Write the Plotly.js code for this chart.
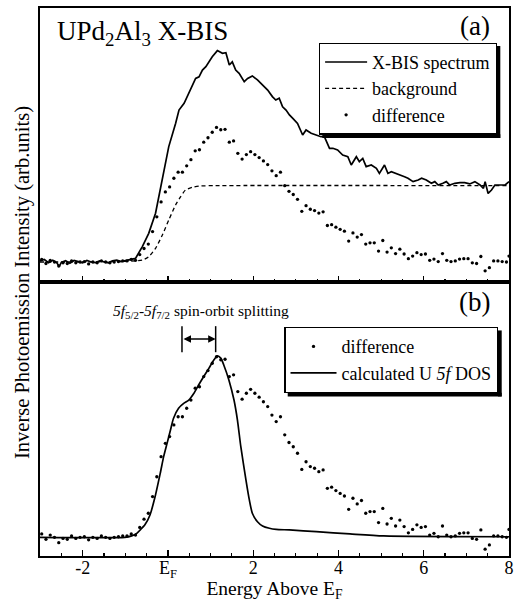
<!DOCTYPE html>
<html>
<head>
<meta charset="utf-8">
<script src="https://cdn.plot.ly/plotly-3.0.1.min.js"></script>
<style>html,body{margin:0;padding:0;background:#fff;}#chart{width:531px;height:603px;}</style>
</head>
<body>
<div id="chart"></div>
<script>
// X-BIS spectrum (panel a)
const xbisE = [-3.0,-2.9,-2.8,-2.7,-2.6,-2.55,-2.5,-2.4,-2.3,-2.2,-2.1,-2.0,-1.9,-1.8,-1.7,-1.6,-1.5,-1.4,-1.3,-1.2,-1.1,-1.0,-0.9,
  -0.76,-0.60,-0.45,-0.29,-0.13,0.02,0.18,0.26,0.38,0.45,0.57,0.65,0.73,0.81,0.89,0.96,1.04,1.16,1.28,1.36,1.44,1.51,1.59,1.67,1.79,1.87,1.98,
  2.10,2.22,2.34,2.45,2.53,2.61,2.69,2.77,2.85,2.93,3.04,3.16,3.24,3.36,3.47,3.59,3.67,3.79,3.87,3.98,
  4.10,4.22,4.30,4.42,4.49,4.57,4.65,4.77,4.89,4.96,5.08,5.16,5.24,5.36,5.44,5.55,5.63,5.75,5.87,5.95,
  6.06,6.18,6.26,6.34,6.45,6.53,6.61,6.73,6.85,6.96,7.08,7.20,7.32,7.40,7.44,7.51,7.59,7.67,7.79,7.91,8.0];
const xbisI = [0.5,1.2,-0.3,0.8,-0.5,-2.2,-0.2,0.6,-0.6,0.7,0.2,-0.4,0.7,0.0,-0.3,0.5,0.1,-0.4,0.6,0.9,0.2,0.6,1.1,
  1.7,7.3,13.6,23.1,38.9,54.7,65.7,72.0,75.2,78.4,83.1,87.0,87.8,91.0,92.6,94.9,97.3,100.2,98.9,99.2,93.4,94.9,91.0,89.4,85.5,87.0,88.2,
  86.3,83.9,81.5,78.4,76.8,77.6,73.6,72.0,69.7,68.1,65.7,60.2,62.6,61.0,60.2,59.4,59.4,53.9,53.9,53.1,
  50.7,49.9,46.0,49.9,47.6,49.1,45.2,46.0,44.4,42.0,46.0,42.0,42.8,42.0,41.2,40.4,39.7,38.1,38.9,39.7,
  38.9,37.3,38.1,36.5,37.3,38.1,36.5,37.3,37.6,37.6,37.0,38.1,36.5,34.9,38.1,32.5,34.1,36.5,36.5,36.5,38.1];

// background (panel a)
const bgE = [-3.0,-0.6,-0.45,-0.29,-0.13,0.02,0.18,0.30,0.41,0.57,0.73,1.12,8.0];
const bgI = [0,0.9,2.5,6.5,12.8,19.9,27.0,31.0,34.1,35.4,36.0,36.2,36.2];

// difference (panels a and b)
const diffE = [-2.96,-2.86,-2.76,-2.66,-2.56,-2.46,-2.36,-2.26,-2.16,-2.06,
  -1.96,-1.86,-1.76,-1.66,-1.56,-1.46,-1.36,-1.26,-1.16,-1.06,
  -0.96,-0.86,-0.76,-0.66,-0.56,-0.46,-0.36,-0.26,-0.16,-0.06,
  0.04,0.14,0.24,0.34,0.44,0.54,0.64,0.74,0.84,0.94,
  1.04,1.14,1.24,1.34,1.44,1.54,1.64,1.74,1.84,1.94,
  2.04,2.14,2.24,2.34,2.44,2.54,2.64,2.74,2.84,2.94,
  3.04,3.14,3.24,3.34,3.44,3.54,3.64,3.74,3.84,3.94,
  4.04,4.14,4.24,4.34,4.44,4.54,4.64,4.74,4.84,4.94,
  5.04,5.14,5.24,5.34,5.44,5.54,5.64,5.74,5.84,5.94,
  6.04,6.14,6.24,6.34,6.44,6.54,6.64,6.74,6.84,6.94,
  7.04,7.14,7.24,7.34,7.44,7.54,7.64,7.74,7.84,7.94,8.0];
const diffI = [1.2,-0.7,0.8,0,-1.9,-0.4,-0.7,0.5,-0.4,0,
  0.2,-0.9,0,-0.4,0.5,0,-0.4,0,0.2,0.5,
  0.5,1.2,0.8,3.5,6.4,8.5,14.4,21.4,28.5,33.2,
  35.6,39.7,42.6,42.6,45.6,48.5,52.7,53.2,56.8,58.9,
  61.5,63.8,62.7,62.9,56.8,57.4,51.5,48.8,50.9,52.3,
  50.9,49.5,47.9,46.2,43.2,40.9,42.6,36.2,33.5,32.0,
  29.7,24.0,26.7,25.0,24.4,23.2,23.8,17.3,17.7,16.5,
  15.5,14.6,9.9,13.8,11.8,13.0,8.5,9.1,9.1,5.2,
  10.2,4.7,6.7,4.0,6.1,3.8,1.6,2.8,4.4,3.5,
  3.8,0.8,1.4,0.2,4.0,0.8,0.2,0.5,1.4,1.6,
  1.6,-0.4,-0.7,2.6,-4.2,-2.7,0.5,0.5,0.2,0,2.8];

// calculated U 5f DOS (panel b)
const dosE = [-3.0,-1.01,-0.85,-0.73,-0.65,-0.54,-0.42,-0.30,-0.18,-0.10,-0.02,0.06,0.13,0.25,0.37,0.49,0.61,0.72,0.84,0.96,1.08,1.16,1.24,1.31,1.43,1.55,1.63,1.71,1.83,1.91,1.98,2.10,2.22,2.38,2.54,2.85,3.48,4.27,5.06,8.0];
const dosI = [0,0,0.5,1.4,2.6,4.4,7.9,14.4,22.6,28.5,33.2,37.9,42.0,45.6,47.3,48.5,50.9,53.8,56.8,59.7,62.7,64.1,63.3,60.9,55.6,48.5,41.5,32.0,20.3,13.2,8.5,5.5,4.0,3.2,2.8,2.6,2.0,1.2,0.5,0.2];

// axis ticks
const tickVals = [-2,0,2,4,6,8];
const tickText = ['-2','E<sub>F</sub>','2','4','6','8'];

const FONT = "'Liberation Serif', 'Times New Roman', serif";

const traces = [
  {x: xbisE, y: xbisI, xaxis:'x', yaxis:'y', mode:'lines', name:'X-BIS spectrum',
   line:{color:'#000', width:1.7}, legend:'legend'},
  {x: bgE, y: bgI, xaxis:'x', yaxis:'y', mode:'lines', name:'background',
   line:{color:'#000', width:1.3, dash:'4px,3px', shape:'spline', smoothing:0.6}, legend:'legend'},
  {x: diffE, y: diffI, xaxis:'x', yaxis:'y', mode:'markers', name:'difference',
   marker:{color:'#000', size:3.3}, legend:'legend'},
  {x: diffE, y: diffI, xaxis:'x2', yaxis:'y2', mode:'markers', name:'difference',
   marker:{color:'#000', size:3.3}, legend:'legend2'},
  {x: dosE, y: dosI, xaxis:'x2', yaxis:'y2', mode:'lines', name:'calculated U <i>5f</i> DOS',
   line:{color:'#000', width:1.7, shape:'spline', smoothing:0.6}, legend:'legend2'}
];

const xCommon = {
  range:[-3,8], showline:true, linecolor:'#000', linewidth:1.6, mirror:true,
  ticks:'inside', ticklen:6, tickwidth:1.3, tickcolor:'#000',
  tickmode:'array', tickvals:tickVals, ticktext:tickText,
  minor:{dtick:0.5, tick0:0, ticks:'inside', ticklen:3, tickwidth:1.1, tickcolor:'#000'},
  showgrid:false, zeroline:false,
  tickfont:{family:FONT, size:18, color:'#000'}
};
const yCommon = {
  showline:true, linecolor:'#000', linewidth:1.6, mirror:true,
  ticks:'', showticklabels:false, showgrid:false, zeroline:false
};

// plot-area geometry in pixels (matches margins below)
const PL = 40, PT = 8, PW = 469, PH = 548;

// legend boxes: anchor (paper) and rendered outer size (px)
const LEG = [
  {x:0.974, y:0.937, w:178, h:92, itemwidth:42},
  {x:0.977, y:0.418, w:214, h:66, itemwidth:46}
];
const SH = 3.5; // drop-shadow thickness in px

function px2paperX(p){ return (p - PL) / PW; }
function px2paperY(p){ return (PT + PH - p) / PH; }

const legendCommon = {xanchor:'right', yanchor:'top', bgcolor:'#fff', bordercolor:'#000', borderwidth:1.3,
  font:{family:FONT, size:18, color:'#000'}, tracegroupgap:0};

// drop shadows drawn as two strips just outside each legend box (right and bottom)
const shadowShapes = [];
LEG.forEach(function(l){
  const right = PL + l.x * PW, top = PT + (1 - l.y) * PH;
  const left = right - l.w, bottom = top + l.h;
  shadowShapes.push({type:'rect', xref:'paper', yref:'paper',
    x0:px2paperX(right - 0.3), x1:px2paperX(right + SH), y0:px2paperY(bottom + SH), y1:px2paperY(top + SH),
    fillcolor:'#000', line:{width:0}, layer:'above'});
  shadowShapes.push({type:'rect', xref:'paper', yref:'paper',
    x0:px2paperX(left + SH), x1:px2paperX(right + SH), y0:px2paperY(bottom + SH), y1:px2paperY(bottom - 0.3),
    fillcolor:'#000', line:{width:0}, layer:'above'});
});

const layout = {
  width:531, height:603,
  margin:{l:PL, r:531-PL-PW, t:PT, b:603-PT-PH},
  paper_bgcolor:'#fff', plot_bgcolor:'#fff',
  font:{family:FONT, color:'#000'},
  xaxis: Object.assign({}, xCommon, {anchor:'y', showticklabels:false}),
  yaxis: Object.assign({}, yCommon, {domain:[0.5,1], range:[-9.48,120.4]}),
  xaxis2: Object.assign({}, xCommon, {anchor:'y2', ticklabelstandoff:-5,
     title:{text:'Energy Above E<sub>F</sub>', font:{family:FONT, size:19.5, color:'#000'}, standoff:0}}),
  yaxis2: Object.assign({}, yCommon, {domain:[0,0.5], range:[-6.6,90.2]}),
  legend: Object.assign({}, legendCommon, {x:LEG[0].x, y:LEG[0].y, itemwidth:LEG[0].itemwidth}),
  legend2: Object.assign({}, legendCommon, {x:LEG[1].x, y:LEG[1].y, itemwidth:LEG[1].itemwidth}),
  shapes: shadowShapes.concat([
    {type:'line', xref:'x2', yref:'y2', x0:0.33, x1:0.33, y0:65.4, y1:74.6, line:{color:'#000', width:1.5}},
    {type:'line', xref:'x2', yref:'y2', x0:1.12, x1:1.12, y0:65.4, y1:74.6, line:{color:'#000', width:1.5}}
  ]),
  annotations:[
    {xref:'paper', yref:'paper', x:0.032, y:0.954, xanchor:'left', yanchor:'middle', showarrow:false,
     text:'UPd<sub>2</sub>Al<sub>3</sub> X-BIS', font:{family:FONT, size:27, color:'#000'}},
    {xref:'paper', yref:'paper', x:0.9275, y:0.968, xanchor:'center', yanchor:'middle', showarrow:false,
     text:'(a)', font:{family:FONT, size:27, color:'#000'}},
    {xref:'paper', yref:'paper', x:0.9275, y:0.464, xanchor:'center', yanchor:'middle', showarrow:false,
     text:'(b)', font:{family:FONT, size:27, color:'#000'}},
    {xref:'paper', yref:'paper', x:0.343, y:0.447, xanchor:'center', yanchor:'middle', showarrow:false,
     text:'<i>5f</i><sub>5/2</sub>-<i>5f</i><sub>7/2</sub> spin-orbit splitting', font:{family:FONT, size:15.5, color:'#000'}},
    {xref:'x2', yref:'y2', axref:'x2', ayref:'y2', x:1.12, y:70.1, ax:0.33, ay:70.1, text:'',
     showarrow:true, arrowside:'end+start', arrowhead:2, startarrowhead:2, arrowsize:1, startarrowsize:1,
     arrowwidth:1.5, arrowcolor:'#000', standoff:0, startstandoff:0},
    {xref:'paper', yref:'paper', x:-0.0384, y:0.5, xanchor:'center', yanchor:'middle', showarrow:false,
     textangle:-90, text:'Inverse Photoemission Intensity (arb.units)', font:{family:FONT, size:20.5, color:'#000'}}
  ]
};

Plotly.newPlot('chart', traces, layout, {displayModeBar:false, staticPlot:true});
</script>
</body>
</html>
